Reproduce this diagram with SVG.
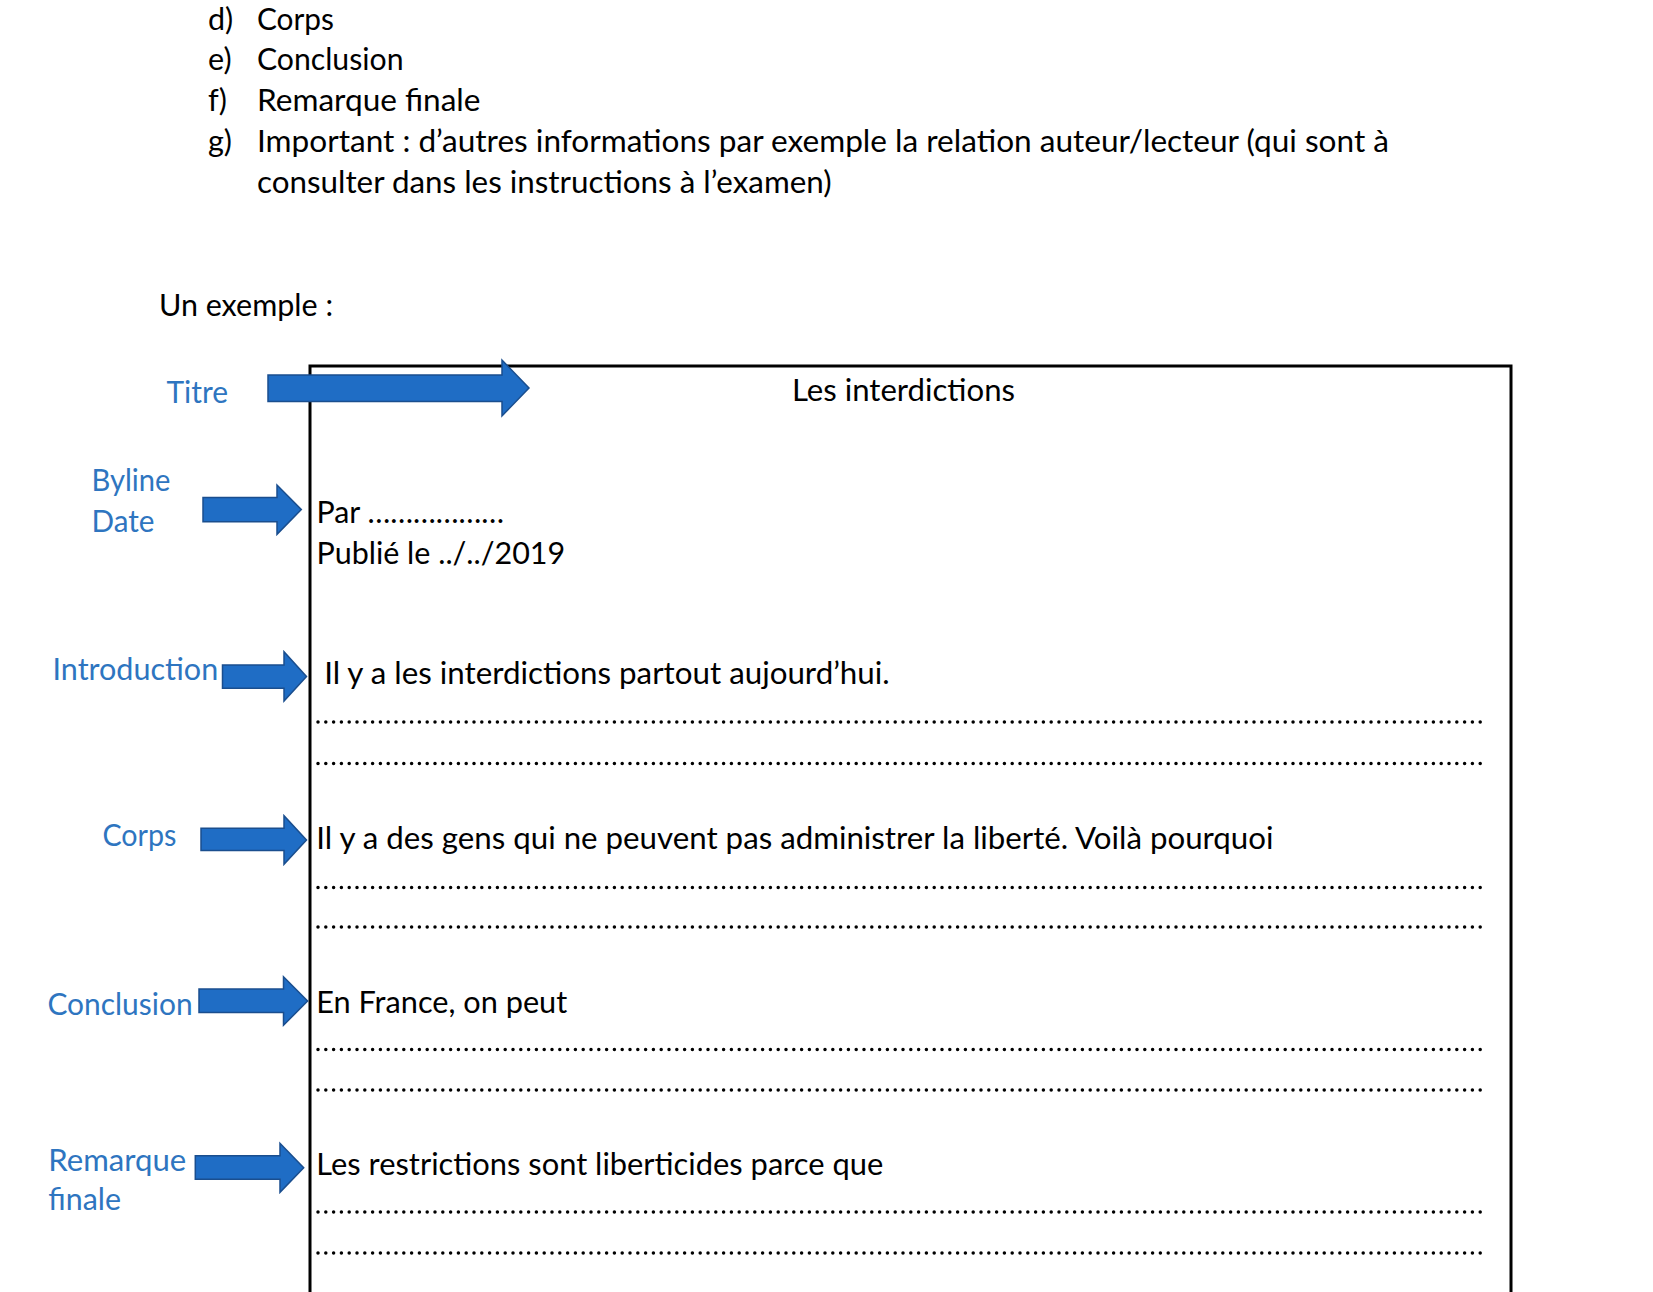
<svg xmlns="http://www.w3.org/2000/svg" width="1653" height="1292" viewBox="0 0 1653 1292">
<defs>
<style>
.t{font-family:Lato,"Liberation Sans",sans-serif;font-size:30.5px;fill:#000}
.b{fill:#2E75C0}
.arrow{fill:#1F6DC5;stroke:#1A4E8E;stroke-width:1.5;stroke-linejoin:miter}
.dots{fill:none;stroke:#000;stroke-width:3.5;stroke-linecap:round;stroke-dasharray:0 7.8}
.frame{fill:none;stroke:#000;stroke-width:3}
</style>
</defs>
<rect width="1653" height="1292" fill="#fff"/>

<g id="list">
<text class="t" x="208" y="30">d)</text>
<text class="t" x="257" y="30" textLength="77" lengthAdjust="spacingAndGlyphs">Corps</text>
<text class="t" x="208" y="70">e)</text>
<text class="t" x="257" y="70" textLength="146.5" lengthAdjust="spacingAndGlyphs">Conclusion</text>
<text class="t" x="208" y="111">f)</text>
<text class="t" x="257" y="111" textLength="223.5" lengthAdjust="spacingAndGlyphs">Remarque finale</text>
<text class="t" x="208" y="152">g)</text>
<text class="t" x="257" y="152" textLength="1132" lengthAdjust="spacingAndGlyphs">Important : d’autres informations par exemple la relation auteur/lecteur (qui sont à</text>
<text class="t" x="257" y="193" textLength="574.6" lengthAdjust="spacingAndGlyphs">consulter dans les instructions à l’examen)</text>
</g>

<g id="intro-line">
<text class="t" x="159" y="315.5" textLength="174" lengthAdjust="spacingAndGlyphs">Un exemple :</text>
</g>

<rect id="article-frame" class="frame" x="310" y="366" width="1201" height="1000"/>

<g id="label-titre"><text class="t b" x="166.5" y="403" textLength="61.6" lengthAdjust="spacingAndGlyphs">Titre</text></g>
<g id="label-byline">
<text class="t b" x="91.5" y="491" textLength="79" lengthAdjust="spacingAndGlyphs">Byline</text>
<text class="t b" x="91.5" y="532" textLength="63" lengthAdjust="spacingAndGlyphs">Date</text>
</g>
<g id="label-introduction"><text class="t b" x="52.5" y="680" textLength="165.7" lengthAdjust="spacingAndGlyphs">Introduction</text></g>
<g id="label-corps"><text class="t b" x="102.5" y="845.5" textLength="74" lengthAdjust="spacingAndGlyphs">Corps</text></g>
<g id="label-conclusion"><text class="t b" x="47.4" y="1014.5" textLength="145.2" lengthAdjust="spacingAndGlyphs">Conclusion</text></g>
<g id="label-remarque">
<text class="t b" x="48.3" y="1170.5" textLength="138" lengthAdjust="spacingAndGlyphs">Remarque</text>
<text class="t b" x="48.3" y="1210" textLength="72.7" lengthAdjust="spacingAndGlyphs">finale</text>
</g>

<g id="box-titre"><text class="t" x="792" y="400.5" textLength="223" lengthAdjust="spacingAndGlyphs">Les interdictions</text></g>
<g id="box-byline">
<text class="t" x="316.5" y="522.5" textLength="187.5" lengthAdjust="spacingAndGlyphs">Par ………………</text>
<text class="t" x="316.5" y="563.5" textLength="248.7" lengthAdjust="spacingAndGlyphs">Publié le ../../2019</text>
</g>
<g id="box-introduction">
<text class="t" x="324.2" y="683.5" textLength="565.5" lengthAdjust="spacingAndGlyphs">Il y a les interdictions partout aujourd’hui.</text>
<path class="dots" d="M318 722H1487M318 763.5H1487"/>
</g>
<g id="box-corps">
<text class="t" x="316.3" y="849" textLength="957.2" lengthAdjust="spacingAndGlyphs">Il y a des gens qui ne peuvent pas administrer la liberté. Voilà pourquoi</text>
<path class="dots" d="M318 887.5H1487M318 927H1487"/>
</g>
<g id="box-conclusion">
<text class="t" x="316.3" y="1012.5" textLength="250.9" lengthAdjust="spacingAndGlyphs">En France, on peut</text>
<path class="dots" d="M318 1049.5H1487M318 1090H1487"/>
</g>
<g id="box-remarque">
<text class="t" x="316.3" y="1175" textLength="567" lengthAdjust="spacingAndGlyphs">Les restrictions sont liberticides parce que</text>
<path class="dots" d="M318 1212H1487M318 1253H1487"/>
</g>

<g id="connectors">
<path class="arrow" d="M268 375H502V360L529 388L502 416V401.5H268Z"/>
<path class="arrow" d="M203 497.5H277V485L301.3 509.6L277 534.3V521.7H203Z"/>
<path class="arrow" d="M222.5 665H284V651.7L306.5 676.4L284 701V688.3H222.5Z"/>
<path class="arrow" d="M201 828.3H284V815.7L306.5 840L284 864.3V850.5H201Z"/>
<path class="arrow" d="M199 989H283.5V976.7L307.6 1001L283.5 1025.3V1012.5H199Z"/>
<path class="arrow" d="M195.3 1155.7H280V1143.3L303.7 1167.8L280 1192.3V1179.3H195.3Z"/>
</g>
</svg>
